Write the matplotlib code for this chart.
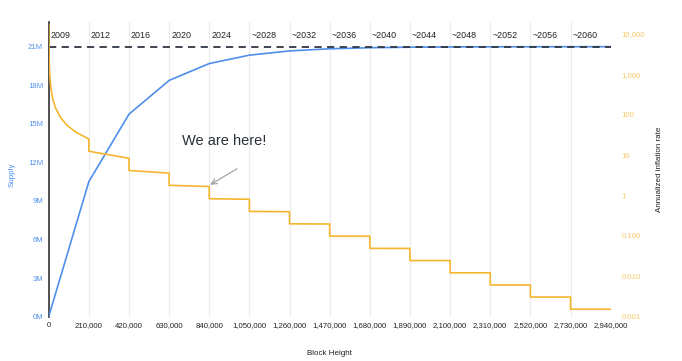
import matplotlib.pyplot as plt
import matplotlib.transforms as mtransforms
from matplotlib.ticker import FuncFormatter

# halving heights and supply at each one (BTC)
halving_blocks = [0, 210000, 420000, 630000, 840000, 1050000, 1260000, 1470000,
                  1680000, 1890000, 2100000, 2310000, 2520000, 2730000, 2940000]
supply = [0, 10.5e6, 15.75e6, 18.375e6, 19.6875e6, 20.34e6, 20.67e6, 20.836e6,
          20.918e6, 20.959e6, 20.98e6, 20.99e6, 20.995e6, 20.997e6, 20.999e6]
years = ['2009', '2012', '2016', '2020', '2024', '~2028', '~2032', '~2036',
         '~2040', '~2044', '~2048', '~2052', '~2056', '~2060']

# first era: steep decay of the inflation rate (%)
era1_blocks = [300, 1000, 2500, 5000, 10000, 20000, 35000, 60000, 94000, 140000, 210000]
era1_rates = [17000, 5200, 2100, 1050, 525, 263, 150, 88, 56, 37.5, 25]
# later eras: rate at start and at end of each era (%)
era_start = [12.5, 4.17, 1.79, 0.834, 0.404, 0.199, 0.0985, 0.0491, 0.0245,
             0.0122, 0.0061, 0.00306, 0.00153]
era_end = [8.34, 3.58, 1.67, 0.807, 0.397, 0.197, 0.0981, 0.049, 0.0245,
           0.0122, 0.0061, 0.00306, 0.00153]

infl_x = list(era1_blocks)
infl_y = list(era1_rates)
for i in range(len(era_start)):
    infl_x += [halving_blocks[i + 1], halving_blocks[i + 2]]
    infl_y += [era_start[i], era_end[i]]

blue = '#4f8fec'
yellow = '#f6b52e'

fig = plt.figure(figsize=(6.82, 3.61), dpi=100)
plt.rcParams['font.family'] = ['Liberation Sans', 'DejaVu Sans']
ax = fig.add_axes([0.0714, 0.1228, 0.824, 0.8163])
ax2 = ax.twinx()

ax.plot(halving_blocks, supply, color=blue, lw=1.2, zorder=3)
ax.axhline(21e6, color='#2f3642', lw=1.3, ls=(0, (4, 3)), zorder=4)
ax2.plot(infl_x, infl_y, color=yellow, lw=1.2)

ax.set_xlim(0, 2940000)
ax.set_ylim(0, 22.92e6)
ax2.set_ylim(0.001, 19800)
ax2.set_yscale('log')

ax.set_xticks(halving_blocks)
ax.xaxis.set_major_formatter(FuncFormatter(lambda v, p: f'{int(v):,}'))
ax.set_yticks([i * 3e6 for i in range(8)])
ax.yaxis.set_major_formatter(FuncFormatter(lambda v, p: f'{int(round(v / 1e6))}M'))
ax2.set_yticks([0.001, 0.01, 0.1, 1, 10, 100, 1000, 10000])
ax2.set_yticklabels(['0.001', '0.010', '0.100', '1', '10', '100', '1,000', '10,000'])
ax2.minorticks_off()

ax.grid(axis='x', color='#ececec', lw=0.8)
ax.set_axisbelow(True)
for s in ['top', 'right', 'bottom']:
    ax.spines[s].set_visible(False)
    ax2.spines[s].set_visible(False)
ax2.spines['left'].set_visible(False)
ax.spines['left'].set_color('#333333')
ax.spines['left'].set_linewidth(1.2)

ax.tick_params(axis='x', length=0, labelsize=5.6, colors='#222222', pad=4)
ax.tick_params(axis='y', length=0, labelsize=5.6, colors=blue, pad=4)
ax2.tick_params(axis='y', length=0, labelsize=5.6, colors='#f8c76a', pad=8)

ax.set_xlabel('Block Height', fontsize=5.8, color='#222222', labelpad=15)
ax.set_ylabel('Supply', fontsize=5.8, color=blue)
ax.yaxis.set_label_coords(-0.058, 0.48)
ax2.set_ylabel('Annualized inflation rate', fontsize=5.8, color='#222222', labelpad=8)

trans = mtransforms.blended_transform_factory(ax.transData, ax.transAxes)
for b, yr in zip(halving_blocks, years):
    ax.text(b + 10000, 0.955, yr, transform=trans, fontsize=6.4,
            color='#222222', va='center', ha='left')

ax2.text(700000, 23, 'We are here!', fontsize=10.5, color='#2a2f38',
         ha='left', va='center')
ax2.annotate('', xy=(845000, 1.85), xytext=(985000, 4.6),
             arrowprops=dict(arrowstyle='->', color='#999999', lw=0.8,
                             shrinkA=0, shrinkB=0))

plt.savefig('out.png', dpi=100)
